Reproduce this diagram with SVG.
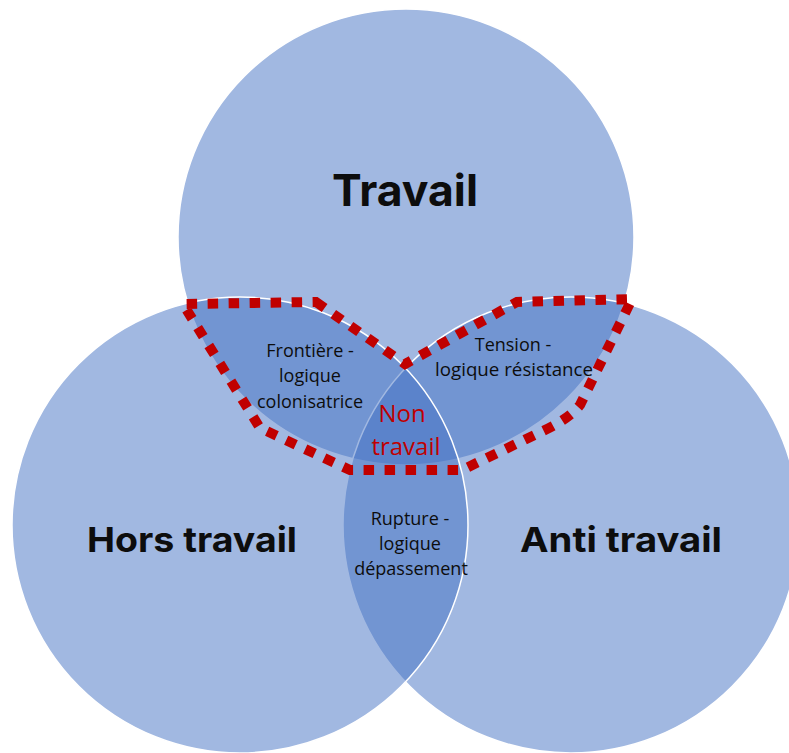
<svg xmlns="http://www.w3.org/2000/svg" width="789" height="753" viewBox="0 0 789 753">
<style>
.c{fill:#4472C4;fill-opacity:0.5;stroke:#FFFFFF;stroke-width:1.5}
.big{font-family:Inter,"Open Sans","Liberation Sans",sans-serif;font-weight:700;fill:#0D0D0D;text-anchor:middle}
.small{font-family:"Open Sans","Liberation Sans",Arial,sans-serif;font-size:18px;fill:#0D0D0D;text-anchor:middle}
.red{font-family:"Open Sans","Liberation Sans",Arial,sans-serif;font-size:24px;fill:#C00000;text-anchor:middle}
.dot{fill:none;stroke:#C00000;stroke-width:10;stroke-dasharray:10.5 10.5}
</style>
<rect width="789" height="753" fill="#FFFFFF"/>
<g id="travail">
<circle class="c" cx="406" cy="237" r="228"/>
</g>
<g id="anti-travail">
<circle class="c" cx="571" cy="525" r="228"/>
</g>
<g id="hors-travail">
<circle class="c" cx="240" cy="525" r="228"/>
</g>
<g id="connectors">
<path class="dot" d="M316,302 L405,364 L517,302 L632,299 L580,405 Q570,418 545,430 L462,470 L350,470 L260,428 L183,304 Z"/>
</g>
<g id="labels-main">
<text class="big" x="405" y="206" font-size="44" textLength="146" lengthAdjust="spacingAndGlyphs">Travail</text>
<text class="big" x="192" y="552" font-size="34.5" textLength="210" lengthAdjust="spacingAndGlyphs">Hors travail</text>
<text class="big" x="621" y="552" font-size="34.5" textLength="202" lengthAdjust="spacingAndGlyphs">Anti travail</text>
</g>
<g id="frontiere">
<text class="small" x="310" y="357">Frontière -</text>
<text class="small" x="310" y="382">logique</text>
<text class="small" x="310" y="408">colonisatrice</text>
</g>
<g id="tension">
<text class="small" x="513" y="351">Tension -</text>
<text class="small" x="514" y="376" textLength="158" lengthAdjust="spacingAndGlyphs">logique résistance</text>
</g>
<g id="rupture">
<text class="small" x="410" y="525">Rupture -</text>
<text class="small" x="410" y="550">logique</text>
<text class="small" x="411" y="575">dépassement</text>
</g>
<g id="non-travail">
<text class="red" x="402" y="422">Non</text>
<text class="red" x="406" y="455">travail</text>
</g>
</svg>
